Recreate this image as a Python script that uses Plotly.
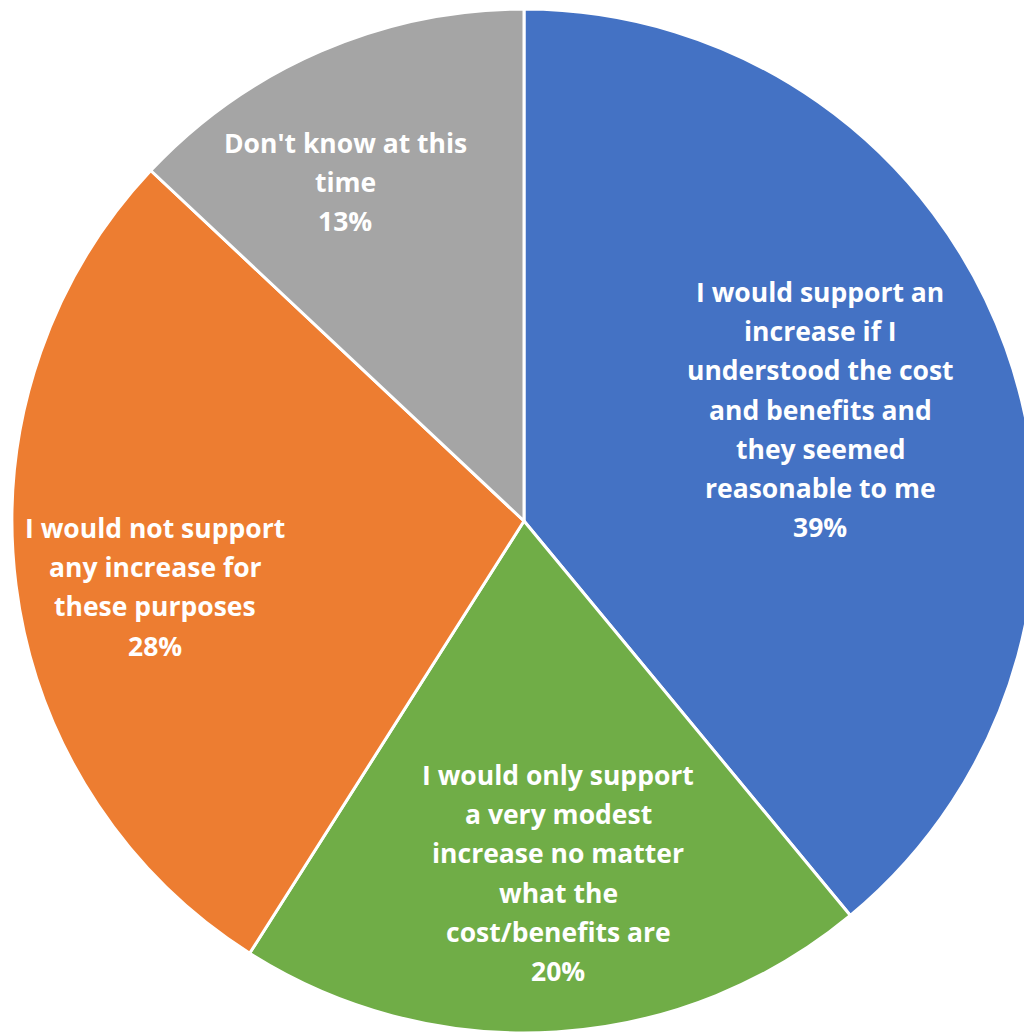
import plotly.graph_objects as go

# Data
categories = [
    "I would support an<br>increase if I<br>understood the cost<br>and benefits and<br>they seemed<br>reasonable to me",
    "I would only support<br>a very modest<br>increase no matter<br>what the<br>cost/benefits are",
    "I would not support<br>any increase for<br>these purposes",
    "Don't know at this<br>time",
]
values = [39, 20, 28, 13]
colors = ["#4472C4", "#70AD47", "#ED7D31", "#A5A5A5"]

# page body has an 8px margin; figure is slightly bigger than the window
OFF = 8
W, H = 1040, 1043


def px_x(x):
    return (x - OFF) / W


def px_y(y):
    return 1 - (y - OFF) / H


fig = go.Figure(go.Pie(
    labels=categories,
    values=values,
    sort=False,
    direction="clockwise",
    rotation=0,
    marker=dict(colors=colors, line=dict(color="white", width=3)),
    textinfo="none",
    hoverinfo="label+percent",
    showlegend=False,
    domain=dict(x=[px_x(12), px_x(1036)], y=[px_y(1033), px_y(9)]),
))

# label anchor (pixel) positions: centre x, first line centre y
label_pos = [(820, 292), (558, 775), (155, 528), (345, 143)]
line_step = 39.2

annotations = []
for cat, val, (cx, cy) in zip(categories, values, label_pos):
    lines = cat.split("<br>") + [f"{val}%"]
    for i, ln in enumerate(lines):
        py = cy + i * line_step
        annotations.append(dict(
            x=px_x(cx), y=px_y(py), xref="paper", yref="paper",
            text=ln, showarrow=False, xanchor="center", yanchor="middle",
            font=dict(family="Open Sans", size=26.5, color="white", weight="bold"),
        ))

fig.update_layout(
    width=W, height=H,
    margin=dict(l=0, r=0, t=0, b=0),
    paper_bgcolor="white",
    plot_bgcolor="white",
    annotations=annotations,
)

fig.write_html("out.html")
